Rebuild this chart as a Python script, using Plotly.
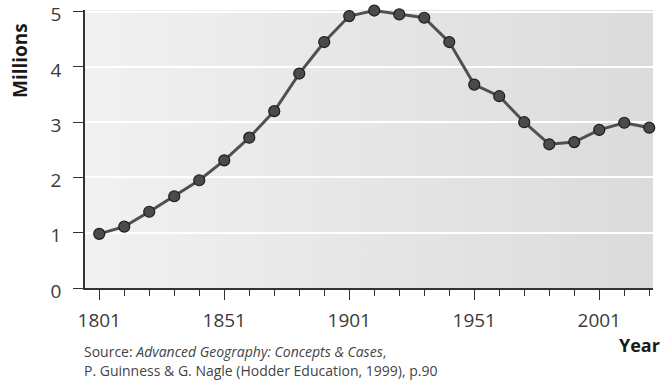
import base64
import plotly.graph_objects as go

# Population (millions), census every ten years
years = [1801, 1811, 1821, 1831, 1841, 1851, 1861, 1871, 1881, 1891, 1901, 1911,
         1921, 1931, 1941, 1951, 1961, 1971, 1981, 1991, 2001, 2011, 2021]
population = [0.98, 1.11, 1.38, 1.66, 1.95, 2.31, 2.72, 3.20, 3.88, 4.45, 4.92, 5.02,
              4.95, 4.89, 4.45, 3.68, 3.47, 3.00, 2.60, 2.64, 2.86, 2.99, 2.90]
y_ticks = [0, 1, 2, 3, 4, 5]
x_ticks = [1801, 1851, 1901, 1951, 2001]

W, H = 664, 380
L, R, T, B = 85, 11, 10, 92
PW, PH = W - L - R, H - T - B
Y_TOP = 5.03


def px(x):
    return (x - L) / PW


def py(y):
    return (H - B - y) / PH


FONT = "Open Sans, Noto Sans, sans-serif"

# horizontal grey gradient behind the plot area
svg = (
    '<svg xmlns="http://www.w3.org/2000/svg" width="100" height="100" '
    'preserveAspectRatio="none" viewBox="0 0 100 100">'
    '<defs><linearGradient id="g" x1="0" y1="0" x2="1" y2="0">'
    '<stop offset="0" stop-color="#f1f1f1"/><stop offset="1" stop-color="#dbdbdc"/>'
    '</linearGradient></defs><rect width="100" height="100" fill="url(#g)"/></svg>'
)
bg_src = "data:image/svg+xml;base64," + base64.b64encode(svg.encode()).decode()

fig = go.Figure()
fig.add_trace(go.Scatter(
    x=years, y=population, mode="lines+markers", cliponaxis=False,
    line=dict(color="#505050", width=3),
    marker=dict(size=11, color="#4b4b4b", line=dict(color="#1e1e1e", width=1.2)),
    showlegend=False, hoverinfo="skip",
))

fig.update_layout(
    width=W, height=H,
    margin=dict(l=L, r=R, t=T, b=B, pad=0, autoexpand=False),
    paper_bgcolor="white", plot_bgcolor="#e6e6e6",
    font=dict(family=FONT, color="#333333"),
    images=[dict(source=bg_src, xref="paper", yref="paper", x=0, y=1,
                 sizex=1, sizey=1, xanchor="left", yanchor="top",
                 sizing="stretch", layer="below")],
    xaxis=dict(
        range=[1795.3, 2022.5], tickvals=x_ticks, ticktext=[str(v) for v in x_ticks],
        ticks="outside", ticklen=10, tickwidth=1.3, tickcolor="#333333",
        minor=dict(tickvals=years, ticks="outside", ticklen=6, tickwidth=1.3,
                   tickcolor="#333333", showgrid=False),
        showline=True, linecolor="#333333", linewidth=1.5,
        showgrid=False, zeroline=False, automargin=False,
        tickfont=dict(size=19, color="#3a3a3a", family=FONT),
        ticklabelstandoff=4, ticklabeloverflow="allow",
        fixedrange=True,
    ),
    yaxis=dict(
        range=[0, Y_TOP], tickvals=y_ticks,
        ticks="outside", ticklen=10, tickwidth=1.3, tickcolor="#333333",
        showline=True, linecolor="#333333", linewidth=1.5,
        showgrid=True, gridcolor="white", gridwidth=2, zeroline=False, automargin=False,
        tickfont=dict(size=19, color="#3a3a3a", family=FONT),
        ticklabelstandoff=8, ticklabelshift=3, ticklabeloverflow="allow",
        fixedrange=True,
    ),
    annotations=[
        dict(text="<b>Millions</b>", textangle=-90, xref="paper", yref="paper",
             x=px(20), y=py(61), xanchor="center", yanchor="middle", showarrow=False,
             font=dict(size=19, color="#1a1a1a", family=FONT)),
        dict(text="<b>Year</b>", xref="paper", yref="paper",
             x=px(662), y=py(345), xanchor="right", yanchor="middle", showarrow=False,
             font=dict(size=18, color="#1a1a1a", family=FONT)),
        dict(text="Source: <i>Advanced Geography: Concepts &amp; Cases</i>,",
             xref="paper", yref="paper", x=px(82), y=py(351),
             xanchor="left", yanchor="middle", showarrow=False,
             font=dict(size=14, color="#444444", family=FONT)),
        dict(text="P. Guinness &amp; G. Nagle (Hodder Education, 1999), p.90",
             xref="paper", yref="paper", x=px(82), y=py(370),
             xanchor="left", yanchor="middle", showarrow=False,
             font=dict(size=14, color="#444444", family=FONT)),
    ],
)

fig.write_html("out.html")
